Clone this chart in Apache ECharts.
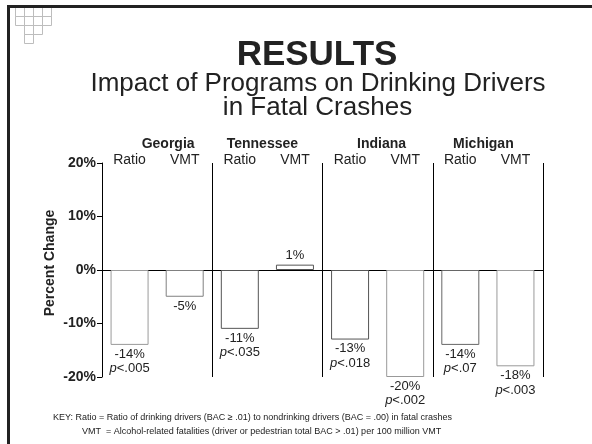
<!DOCTYPE html>
<html>
<head>
<meta charset="utf-8">
<script src="https://cdn.jsdelivr.net/npm/echarts@6/dist/echarts.min.js"></script>
<style>
  html, body { margin: 0; padding: 0; background: #fff; }
  #chart { width: 592px; height: 444px; }
</style>
</head>
<body>
<div id="chart"></div>
<script>
// Percent change per state and measure (Ratio, VMT)
const states = ['Georgia', 'Tennessee', 'Indiana', 'Michigan'];
const measures = ['Ratio', 'VMT', 'Ratio', 'VMT', 'Ratio', 'VMT', 'Ratio', 'VMT'];
const percentChange = [-14, -5, -11, 1, -13, -20, -14, -18];
const pValues = ['.005', null, '.035', null, '.018', '.002', '.07', '.003'];
const yTicks = { min: -20, max: 20, step: 10 };

const FONT = '"Liberation Sans", Arial, Helvetica, sans-serif';
const INK = '#222';

// outline shade for each bar
const barEdges = ['#9a9a9a', '#808080', '#555', '#555', '#555', '#999', '#666', '#999'];
// horizontal nudge for the state headings
const stateNudge = [22, -10, 8, -9];

const chart = echarts.init(document.getElementById('chart'), null, { renderer: 'canvas' });

const barData = percentChange.map((v, i) => ({
  value: v,
  itemStyle: { color: '#fff', borderColor: barEdges[i], borderWidth: 1 }
}));

const stateData = states.map((s, i) => ({
  value: s,
  textStyle: {
    padding: stateNudge[i] >= 0 ? [0, 0, 0, stateNudge[i]] : [0, -stateNudge[i], 0, 0]
  }
}));

// decorative corner squares
const cornerCells = [[0,0],[1,0],[2,0],[3,0],[0,1],[1,1],[2,1],[3,1],[1,2],[2,2],[1,3]];
const corner = cornerCells.map(([c, r]) => ({
  type: 'rect',
  silent: true,
  shape: { x: 15.5 + c * 9, y: 7.5 + r * 9, width: 9, height: 9 },
  style: { fill: 'none', stroke: '#bdbdbd', lineWidth: 1 },
  z: 1
}));

const option = {
  animation: false,
  backgroundColor: '#fff',
  textStyle: { fontFamily: FONT },
  grid: { left: 102, right: 49, top: 163, bottom: 67, containLabel: false },
  xAxis: [
    {
      // zero line
      type: 'category',
      data: measures,
      position: 'bottom',
      axisLine: { onZero: true, lineStyle: { color: '#000', width: 1 } },
      axisTick: { show: false },
      axisLabel: { show: false },
      splitLine: { show: false }
    },
    {
      type: 'category',
      data: measures,
      position: 'top',
      axisLine: { show: false, onZero: false },
      axisTick: { show: false },
      axisLabel: { color: INK, fontSize: 14, fontFamily: FONT, margin: -4 },
      splitLine: { show: false }
    },
    {
      type: 'category',
      data: stateData,
      position: 'top',
      axisLine: { show: false, onZero: false },
      axisTick: { show: false },
      axisLabel: { color: INK, fontSize: 14, fontWeight: 'bold', fontFamily: FONT, margin: 12 },
      splitLine: { show: false }
    },
    {
      // panel dividers between states
      type: 'value',
      min: 0,
      max: 8,
      interval: 2,
      position: 'bottom',
      axisLine: { show: false, onZero: false },
      axisTick: { show: false },
      axisLabel: { show: false },
      splitLine: { show: true, lineStyle: { color: '#000', width: 1 } }
    }
  ],
  yAxis: {
    type: 'value',
    min: yTicks.min,
    max: yTicks.max,
    interval: yTicks.step,
    name: 'Percent Change',
    nameLocation: 'middle',
    nameGap: 45,
    nameMoveOverlap: false,
    nameTextStyle: { color: INK, fontSize: 14, fontWeight: 'bold', fontFamily: FONT, padding: [0, 0, 0, 14] },
    axisLine: { show: true, lineStyle: { color: '#000', width: 1 } },
    axisTick: { show: true, inside: false, length: 5, lineStyle: { color: '#000' } },
    axisLabel: { color: INK, fontSize: 14, fontWeight: 'bold', fontFamily: FONT, margin: 6, formatter: '{value}%' },
    splitLine: { show: false }
  },
  series: [{
    type: 'bar',
    xAxisIndex: 0,
    yAxisIndex: 0,
    data: barData,
    barWidth: 38,
    label: {
      show: true,
      position: 'outside',
      distance: 2,
      color: INK,
      fontSize: 13,
      lineHeight: 14.5,
      fontFamily: FONT,
      formatter: (p) => {
        const v = percentChange[p.dataIndex] + '%';
        const pv = pValues[p.dataIndex];
        return pv ? v + '\n{it|p}<' + pv : v;
      },
      rich: {
        it: { fontStyle: 'italic', fontSize: 13, color: INK, fontFamily: FONT, lineHeight: 14.5 }
      }
    }
  }],
  graphic: [
    // slide frame
    { type: 'line', silent: true, shape: { x1: 7, y1: 6.5, x2: 592, y2: 6.5 }, style: { stroke: INK, lineWidth: 3 }, z: 5 },
    { type: 'line', silent: true, shape: { x1: 8.5, y1: 5, x2: 8.5, y2: 444 }, style: { stroke: INK, lineWidth: 3 }, z: 5 },
    ...corner,
    { type: 'text', x: 317, y: 55, style: { text: 'RESULTS', font: 'bold 35px ' + FONT, fill: INK, align: 'center', verticalAlign: 'middle' } },
    { type: 'text', x: 318, y: 84, style: { text: 'Impact of Programs on Drinking Drivers', font: '26px ' + FONT, fill: INK, align: 'center', verticalAlign: 'middle' } },
    { type: 'text', x: 317.5, y: 108, style: { text: 'in Fatal Crashes', font: '26px ' + FONT, fill: INK, align: 'center', verticalAlign: 'middle' } },
    { type: 'text', x: 53, y: 418, style: { text: 'KEY: Ratio = Ratio of drinking drivers (BAC \u2265 .01) to nondrinking drivers (BAC = .00) in fatal crashes', font: '9px ' + FONT, fill: INK, align: 'left', verticalAlign: 'middle' } },
    { type: 'text', x: 82, y: 432, style: { text: 'VMT  = Alcohol-related fatalities (driver or pedestrian total BAC > .01) per 100 million VMT', font: '9px ' + FONT, fill: INK, align: 'left', verticalAlign: 'middle' } }
  ]
};

chart.setOption(option);
</script>
</body>
</html>
